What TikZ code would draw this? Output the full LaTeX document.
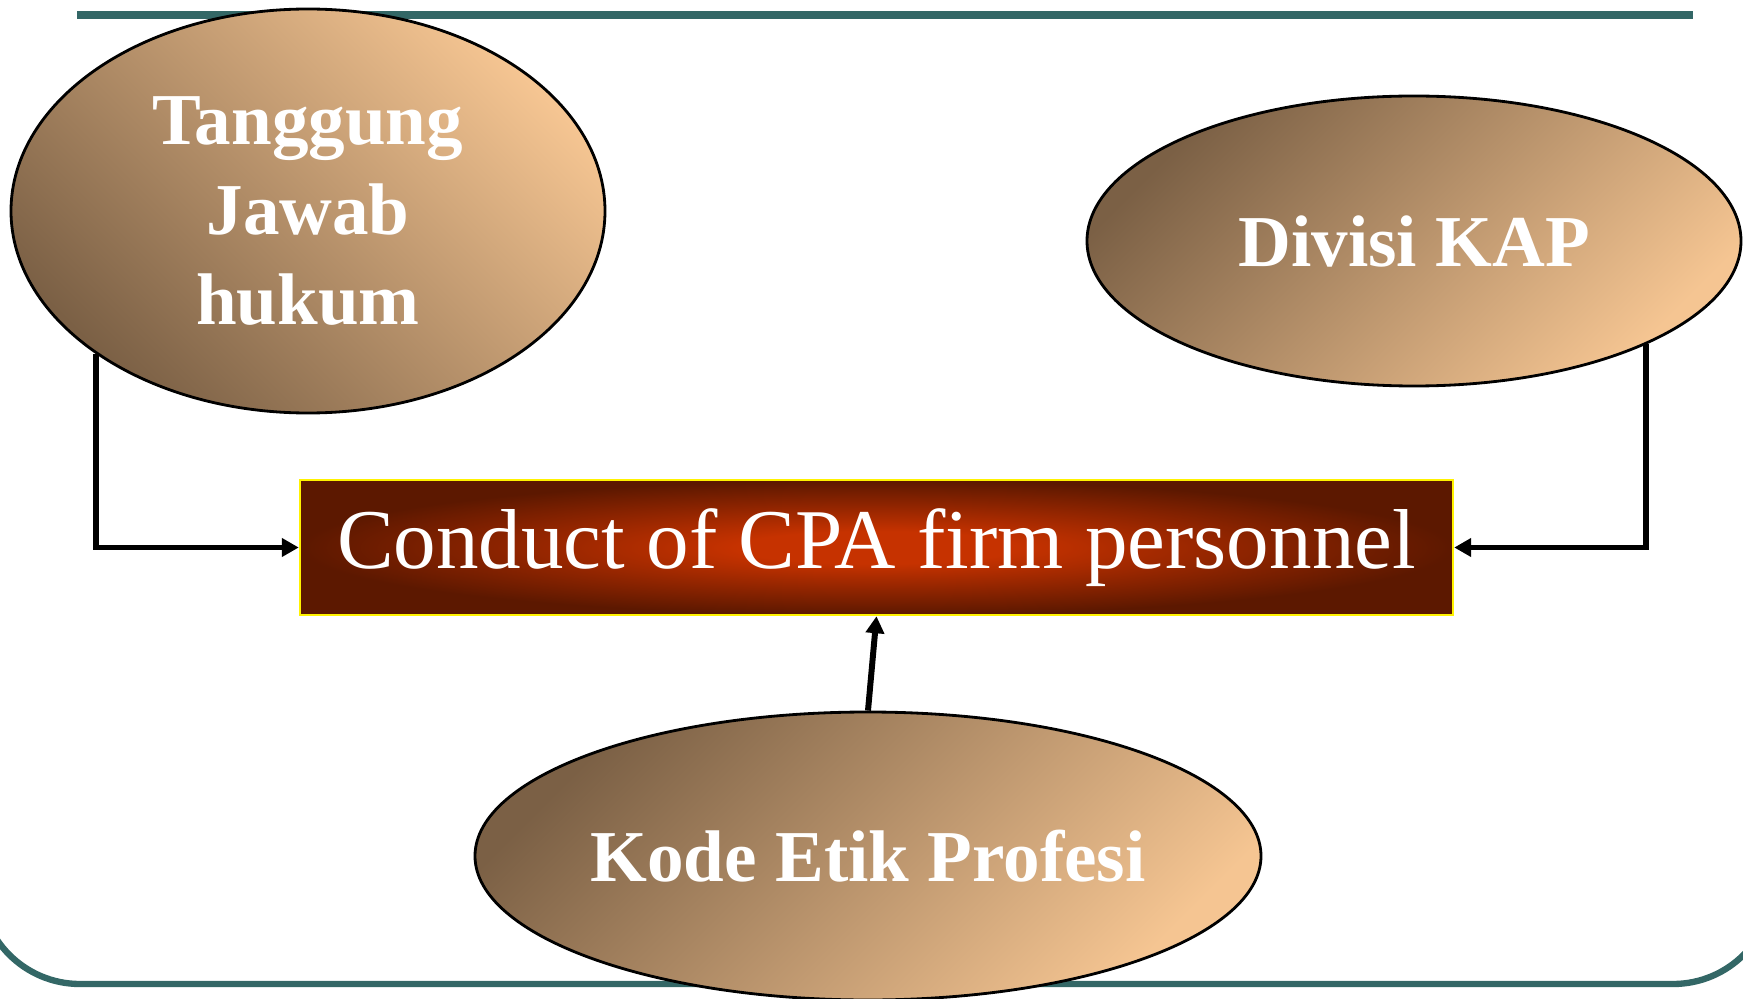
\documentclass[tikz,border=0pt]{standalone}
\usepackage{fontspec}
\setmainfont{Liberation Serif}
\usetikzlibrary{shapes.geometric, arrows.meta}
\definecolor{framegreen}{HTML}{336766}
\definecolor{ovaldark}{HTML}{7B6045}
\definecolor{ovallight}{HTML}{F5C592}
\definecolor{boxdark}{HTML}{5C1800}
\definecolor{boxmid}{HTML}{8E2400}
\definecolor{boxlight}{HTML}{C63200}
% wide glow for the centre box
\pgfdeclareradialshading{glow}{\pgfpoint{0bp}{0bp}}{color(0bp)=(boxlight); color(6bp)=(boxlight); color(16bp)=(boxmid); color(25bp)=(boxdark); color(50bp)=(boxdark)}
\begin{document}
\begin{tikzpicture}[
  oval/.style={ellipse, draw=black, line width=0.8pt, inner sep=0pt, left color=ovaldark, right color=ovallight, text=white, align=center, font=\fontsize{20.8}{25.6}\selectfont\bfseries},
  conduct/.style={rectangle, draw=yellow, line width=0.7pt, shading=glow, text=white, minimum width=11.53cm, minimum height=1.35cm, font=\fontsize{24.2}{29}\selectfont},
  link/.style={line width=1.7pt, -{Triangle[length=0.17cm, width=0.18cm]}}
]
\useasboundingbox (0,0) rectangle (17.43,9.98);
% frame lines
\draw[framegreen, line width=2.3pt](0.77,9.83) -- (16.93,9.83);
\draw[framegreen, line width=1.8pt, rounded corners=1cm](-0.2,5) |- (17.73,0.14) -- (17.73,5);
% the three sources
\node[oval, minimum width=5.94cm, minimum height=4.04cm, shading angle=135] (tj) at (3.08,7.87) {Tanggung\\Jawab\\hukum};
\node[oval, minimum width=6.54cm, minimum height=2.90cm, shading angle=45] (dk) at (14.14,7.57) {Divisi KAP};
\node[oval, minimum width=7.86cm, minimum height=2.88cm, shading angle=45, inner xsep=-1mm] (ke) at (8.68,1.42) {Kode Etik Profesi};
% centre box
\node[conduct] (cp) at (8.765,4.505) {Conduct of CPA firm personnel};
\draw[link](tj.214.7) |- (cp.west);
\draw[link](dk.336) |- (cp.east);
\draw[link](ke.north) -- (cp.south);
\end{tikzpicture}
\end{document}
